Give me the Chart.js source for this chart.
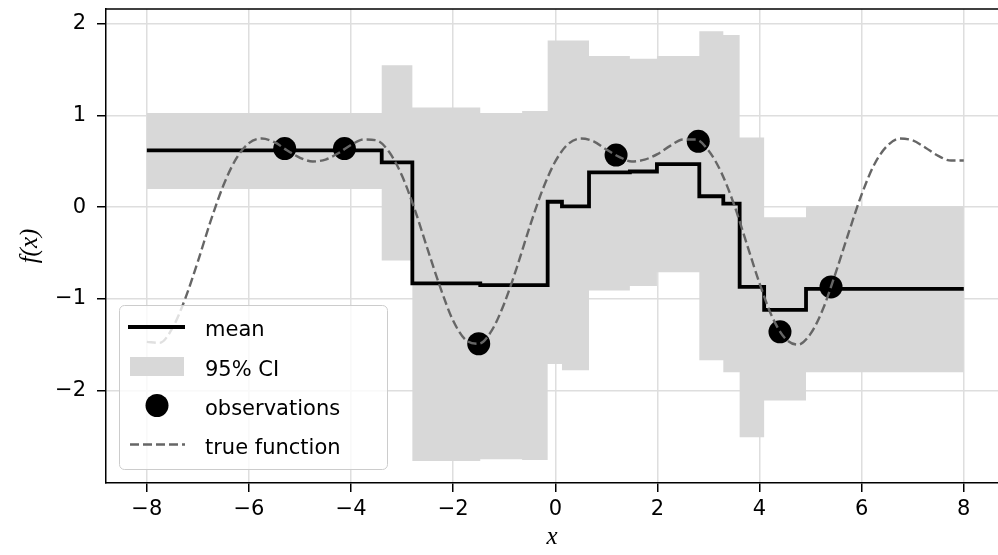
<!DOCTYPE html>
<html>
<head>
<meta charset="utf-8">
<script src="https://cdn.jsdelivr.net/npm/chart.js@4"></script>
<style>
  html, body { margin: 0; padding: 0; background: #fff; }
  #wrap { width: 998px; height: 555px; }
</style>
</head>
<body>
<div id="wrap"><canvas id="chart" width="998" height="555"></canvas></div>
<script>
// edges of the piecewise-constant posterior, one value per interval
const stepEdges  = [-8, -3.40, -2.80, -1.47, -0.65, -0.15, 0.13, 0.66, 1.46, 1.99, 2.82, 3.29, 3.61, 4.09, 4.91, 8];
const meanSteps  = [0.62, 0.49, -0.83, -0.85, -0.85, 0.06, 0.01, 0.38, 0.39, 0.47, 0.12, 0.04, -0.87, -1.12, -0.89];
const upperSteps = [1.03, 1.55, 1.09, 1.03, 1.05, 1.82, 1.82, 1.65, 1.62, 1.65, 1.92, 1.88, 0.76, -0.11, 0.01];
const lowerSteps = [0.20, -0.58, -2.77, -2.75, -2.76, -1.71, -1.78, -0.91, -0.86, -0.71, -1.67, -1.80, -2.51, -2.11, -1.80];

// observed points
const obsX = [-5.3, -4.13, -1.5, 1.19, 2.8, 4.4, 5.4];
const obsY = [0.64, 0.64, -1.49, 0.57, 0.72, -1.36, -0.87];

// true function sampled every 0.25
const trueX = [-8, -7.75, -7.5, -7.25, -7, -6.75, -6.5, -6.25, -6, -5.75, -5.5, -5.25, -5, -4.75, -4.5, -4.25,
  -4, -3.75, -3.5, -3.25, -3, -2.75, -2.5, -2.25, -2, -1.75, -1.5, -1.25, -1, -0.75, -0.5, -0.25,
  0, 0.25, 0.5, 0.75, 1, 1.25, 1.5, 1.75, 2, 2.25, 2.5, 2.75, 3, 3.25, 3.5, 3.75,
  4, 4.25, 4.5, 4.75, 5, 5.25, 5.5, 5.75, 6, 6.25, 6.5, 6.75, 7, 7.25, 7.5, 7.75, 8];
const trueY = [-1.47, -1.48, -1.32, -1.00, -0.59, -0.15, 0.24, 0.53, 0.70, 0.75, 0.71, 0.62, 0.54, 0.50, 0.52, 0.59,
  0.68, 0.74, 0.73, 0.60, 0.34, -0.03, -0.46, -0.88, -1.24, -1.45, -1.49, -1.35, -1.05, -0.65, -0.21, 0.19,
  0.50, 0.69, 0.75, 0.72, 0.63, 0.55, 0.50, 0.52, 0.58, 0.67, 0.74, 0.74, 0.62, 0.38, 0.03, -0.40,
  -0.83, -1.20, -1.43, -1.50, -1.38, -1.10, -0.70, -0.27, 0.14, 0.47, 0.67, 0.75, 0.73, 0.65, 0.56, 0.51, 0.51];

const xTicks = [-8, -6, -4, -2, 0, 2, 4, 6, 8];
const yTicks = [-2, -1, 0, 1, 2];
const legendLabels = ['mean', '95% CI', 'observations', 'true function'];

const tickFont = { family: 'DejaVu Sans', size: 21 };
const mathFont = { family: 'Liberation Serif', style: 'italic', size: 25 };
const fmt = v => (v < 0 ? '\u2212' + Math.abs(v) : String(v));

const meanWidth = 3.8;
const dashWidth = 2.4;
const dashPattern = [9, 4];

function stepPoints(values) {
  const pts = [];
  values.forEach((v, i) => {
    pts.push({ x: stepEdges[i], y: v });
    pts.push({ x: stepEdges[i + 1], y: v });
  });
  return pts;
}

const topSpine = {
  id: 'topSpine',
  afterDraw(chart) {
    const { ctx, chartArea: a } = chart;
    ctx.save();
    ctx.strokeStyle = '#000';
    ctx.lineWidth = 1.5;
    ctx.beginPath();
    ctx.moveTo(a.left, a.top);
    ctx.lineTo(a.right, a.top);
    ctx.stroke();
    ctx.restore();
  }
};

// matplotlib-style legend box in the lower left of the plot
const boxLegend = {
  id: 'boxLegend',
  afterDraw(chart) {
    const ctx = chart.ctx;
    ctx.save();
    ctx.beginPath();
    ctx.roundRect(119.5, 305.5, 268, 164, 5);
    ctx.fillStyle = 'rgba(255,255,255,0.8)';
    ctx.fill();
    ctx.strokeStyle = '#cccccc';
    ctx.lineWidth = 1;
    ctx.stroke();

    const rows = [327, 366.5, 405.5, 444.5];
    // mean
    ctx.strokeStyle = '#000';
    ctx.lineWidth = meanWidth;
    ctx.beginPath();
    ctx.moveTo(128, rows[0]);
    ctx.lineTo(185, rows[0]);
    ctx.stroke();
    // CI patch
    ctx.fillStyle = '#d8d8d8';
    ctx.fillRect(130, rows[1] - 9.5, 54, 19);
    // observation marker
    ctx.fillStyle = '#000';
    ctx.beginPath();
    ctx.arc(157, rows[2], 11.5, 0, Math.PI * 2);
    ctx.fill();
    // true function
    ctx.strokeStyle = '#666666';
    ctx.lineWidth = dashWidth;
    ctx.setLineDash(dashPattern);
    ctx.beginPath();
    ctx.moveTo(130, rows[3]);
    ctx.lineTo(185, rows[3]);
    ctx.stroke();
    ctx.setLineDash([]);

    ctx.fillStyle = '#000';
    ctx.font = tickFont.size + 'px ' + tickFont.family;
    ctx.textBaseline = 'alphabetic';
    const baselines = [336, 375.5, 414.5, 454];
    legendLabels.forEach((t, i) => ctx.fillText(t, 205, baselines[i]));
    ctx.restore();
  }
};

const ctx = document.getElementById('chart').getContext('2d');
new Chart(ctx, {
  type: 'line',
  data: {
    datasets: [
      {
        label: legendLabels[1],
        data: stepPoints(upperSteps),
        borderColor: 'rgba(0,0,0,0)',
        borderWidth: 1,
        pointRadius: 0,
        backgroundColor: '#d8d8d8',
        fill: '+1',
        order: 4
      },
      {
        label: 'lower',
        data: stepPoints(lowerSteps),
        borderColor: 'rgba(0,0,0,0)',
        borderWidth: 1,
        pointRadius: 0,
        fill: false,
        order: 4
      },
      {
        label: legendLabels[0],
        data: stepPoints(meanSteps),
        borderColor: '#000',
        borderWidth: meanWidth,
        pointRadius: 0,
        fill: false,
        order: 3
      },
      {
        label: legendLabels[2],
        data: obsX.map((x, i) => ({ x, y: obsY[i] })),
        showLine: false,
        pointRadius: 11.5,
        pointBackgroundColor: '#000',
        pointBorderWidth: 0,
        order: 2
      },
      {
        label: legendLabels[3],
        data: trueX.map((x, i) => ({ x, y: trueY[i] })),
        borderColor: '#666666',
        borderWidth: dashWidth,
        borderDash: dashPattern,
        pointRadius: 0,
        cubicInterpolationMode: 'monotone',
        fill: false,
        order: 1
      }
    ]
  },
  options: {
    responsive: false,
    animation: false,
    events: [],
    layout: { autoPadding: false, padding: { top: 9, right: 0, bottom: 0, left: 0 } },
    plugins: { legend: { display: false }, tooltip: { enabled: false } },
    scales: {
      x: {
        type: 'linear',
        min: -8.8,
        max: 8.67,
        afterBuildTicks: s => { s.ticks = xTicks.map(v => ({ value: v })); },
        afterFit: s => { s.height = 72; s.paddingLeft = 0; s.paddingRight = 0; },
        ticks: { callback: fmt, color: '#000', font: tickFont, padding: 5, maxRotation: 0, autoSkip: false },
        grid: { color: '#dedede', lineWidth: 1.5, tickLength: 9, tickColor: '#000', tickWidth: 1.5 },
        border: { color: '#000', width: 1.5 },
        title: { display: true, text: 'x', color: '#000', font: mathFont, padding: { top: 0, bottom: 3 } }
      },
      y: {
        type: 'linear',
        min: -3.01,
        max: 2.164,
        afterBuildTicks: s => { s.ticks = yTicks.map(v => ({ value: v })); },
        afterFit: s => { s.width = 106; s.paddingTop = 0; s.paddingBottom = 0; },
        ticks: { callback: fmt, color: '#000', font: tickFont, padding: 11 },
        grid: { color: '#dedede', lineWidth: 1.5, tickLength: 9, tickColor: '#000', tickWidth: 1.5 },
        border: { color: '#000', width: 1.5 },
        title: { display: true, text: 'f(x)', color: '#000', font: mathFont, padding: { top: 15, bottom: 0 } }
      }
    }
  },
  plugins: [topSpine, boxLegend]
});
</script>
</body>
</html>
